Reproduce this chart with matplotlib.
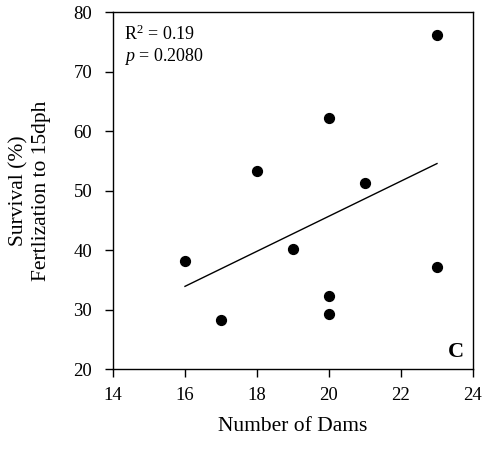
import numpy as np
import matplotlib
matplotlib.use("Agg")
import matplotlib.pyplot as plt

plt.rcParams["font.family"] = "Liberation Serif"
plt.rcParams["mathtext.fontset"] = "custom"
plt.rcParams["mathtext.rm"] = "Liberation Serif"
plt.rcParams["mathtext.it"] = "Liberation Serif:italic"

# data
dams = [16, 17, 18, 19, 20, 20, 20, 21, 23, 23]
survival = [38.2, 28.2, 53.2, 40.2, 62.2, 32.2, 29.2, 51.2, 76.2, 37.2]
x_ticks = [14, 16, 18, 20, 22, 24]
y_ticks = [20, 30, 40, 50, 60, 70, 80]

fig = plt.figure(figsize=(4.82, 4.53), dpi=100)
ax = fig.add_axes([0.2344, 0.1854, 0.7469, 0.7881])

ax.scatter(dams, survival, s=50, color="black", zorder=3)

# least squares fit line over the data range
slope, intercept = np.polyfit(dams, survival, 1)
xs = np.array([min(dams), max(dams)])
ax.plot(xs, slope * xs + intercept, color="black", lw=1)

ax.set_xlim(14, 24)
ax.set_ylim(20, 80)
ax.set_xticks(x_ticks)
ax.set_yticks(y_ticks)
ax.tick_params(direction="out", length=6, width=1, labelsize=13.5)
ax.tick_params(axis="x", pad=7)
ax.tick_params(axis="y", pad=9)
for sp in ax.spines.values():
    sp.set_linewidth(1)

ax.set_xlabel("Number of Dams", fontsize=15.5, labelpad=9)
ax.set_ylabel("Survival (%)\nFertlization to 15dph", fontsize=15.5,
              labelpad=16, linespacing=1.25)

ax.text(0.03, 0.965, "R$^2$ = 0.19\n$p$ = 0.2080", transform=ax.transAxes,
        ha="left", va="top", fontsize=13, linespacing=1.15)
ax.text(0.975, 0.02, "C", transform=ax.transAxes, ha="right", va="bottom",
        fontsize=16, fontweight="bold")

fig.savefig("out.png", dpi=100)
plt.close(fig)
